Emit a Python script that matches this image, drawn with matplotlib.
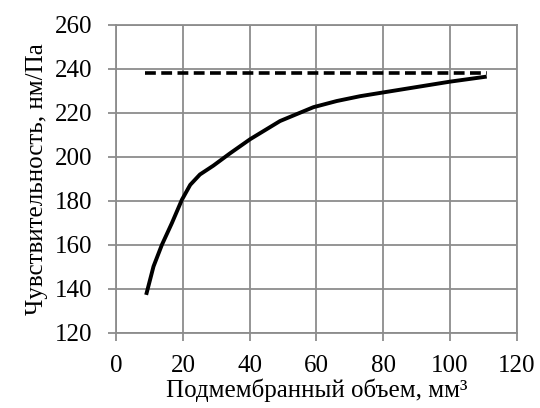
import matplotlib
matplotlib.use("Agg")
import matplotlib.pyplot as plt

volume = [9.0, 11.2, 13.7, 16.7, 19.7, 22.2, 25.1, 29.1, 34.1, 40.1, 49.1, 59.1, 66.1, 73.1, 80.0, 100.0, 111.0]
sensitivity = [137.3, 150.2, 160.0, 169.9, 180.5, 187.3, 192.0, 196.0, 201.6, 208.0, 216.3, 222.6, 225.4, 227.6, 229.3, 234.2, 236.5]
dash_x = [8.7, 111.0]
dash_y = [238.0, 238.0]
xticks = [0, 20, 40, 60, 80, 100, 120]
yticks = [120, 140, 160, 180, 200, 220, 240, 260]

plt.rcParams['font.family'] = ['Liberation Serif', 'DejaVu Serif']
fig = plt.figure(figsize=(5.4, 4.08), dpi=100)
ax = fig.add_axes([0.215, 0.184, 0.742, 0.755])

grid_c = '#8c8c8c'
ax.plot(dash_x, dash_y, color='black', lw=2.6, ls=(0, (3, 1.5)), zorder=3)
ax.plot(volume, sensitivity, color='black', lw=2.8, zorder=4,
        solid_capstyle='butt', solid_joinstyle='round')

ax.set_xlim(0, 120)
ax.set_ylim(120, 260)
ax.set_xticks(xticks)
ax.set_yticks(yticks)
ax.grid(True, color=grid_c, lw=1.3)
for s in ax.spines.values():
    s.set_color(grid_c)
    s.set_linewidth(1.3)
ax.tick_params(axis='both', colors=grid_c, length=6, width=1.3, labelsize=18,
               labelcolor='black')
ax.tick_params(axis='x', pad=10)
ax.tick_params(axis='y', pad=11)
ax.set_axisbelow(True)
ax.set_xlabel('Подмембранный объем, мм³', fontsize=18, labelpad=1)
ax.set_ylabel('Чувствительность, нм/Па', fontsize=18, labelpad=5)

fig.savefig('out.png', dpi=100)
